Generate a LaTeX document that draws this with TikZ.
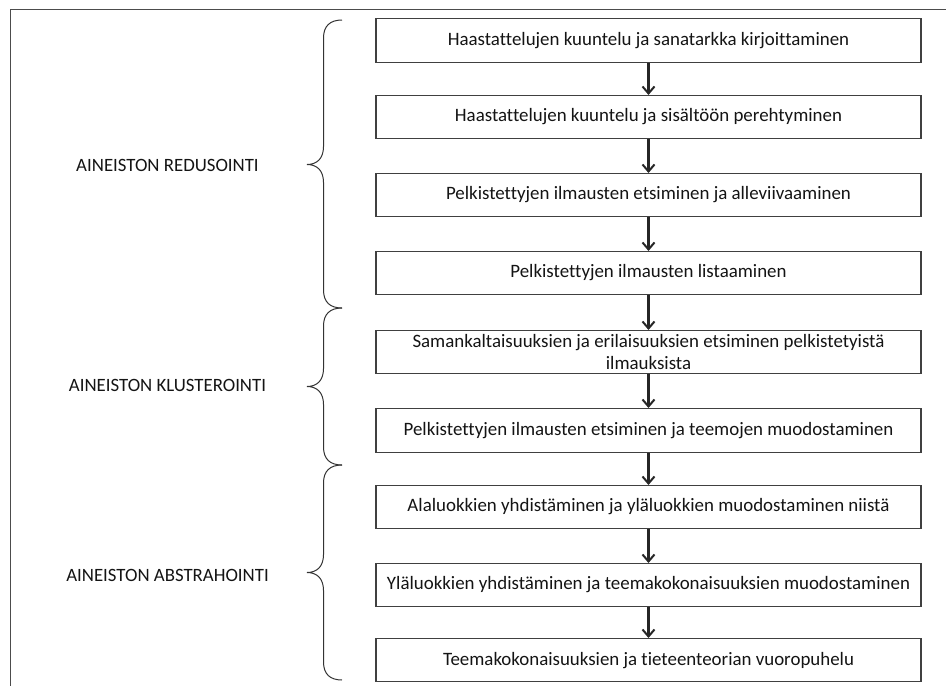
\documentclass[tikz,border=0pt]{standalone}
\usepackage{fontspec}
\setmainfont{Carlito}[Ligatures=NoCommon]
\usetikzlibrary{arrows.meta}
\begin{document}
\begin{tikzpicture}[x=1pt,y=-1pt,
  stepbox/.style={draw=black!75,line width=1.1pt,fill=white,minimum width=545pt,
    inner sep=0pt,align=center,font=\fontsize{18.9}{22.5}\selectfont,anchor=north,text=black!92},
  flow/.style={draw=black!85,line width=2.2pt,-{Straight Barb[length=7pt,width=12pt,line width=2pt]}},
  phase/.style={font=\fontsize{18.8}{22}\selectfont,text=black!92},
  brace/.style={draw=black!80,line width=1pt},
  frame/.style={draw=black!70,line width=1pt}]
\useasboundingbox (0,0) rectangle (946,686);
% outer frame (left and top edges)
\draw[frame] (10.5,686) -- (10.5,9.5) -- (946,9.5);
% process steps
\def\bx{648.5}
\node[stepbox,minimum height=44pt] (s1) at (\bx,18) {Haastattelujen kuuntelu ja sanatarkka kirjoittaminen};
\node[stepbox,minimum height=43pt] (s2) at (\bx,95) {Haastattelujen kuuntelu ja sisältöön perehtyminen};
\node[stepbox,minimum height=43pt] (s3) at (\bx,173) {Pelkistettyjen ilmausten etsiminen ja alleviivaaminen};
\node[stepbox,minimum height=43pt] (s4) at (\bx,251) {Pelkistettyjen ilmausten listaaminen};
\node[stepbox,minimum height=43pt] (s5) at (\bx,330) {Samankaltaisuuksien ja erilaisuuksien etsiminen pelkistetyistä\\ilmauksista};
\node[stepbox,minimum height=44pt] (s6) at (\bx,408) {Pelkistettyjen ilmausten etsiminen ja teemojen muodostaminen};
\node[stepbox,minimum height=43pt] (s7) at (\bx,485) {Alaluokkien yhdistäminen ja yläluokkien muodostaminen niistä};
\node[stepbox,minimum height=43pt] (s8) at (\bx,563) {Yläluokkien yhdistäminen ja teemakokonaisuuksien muodostaminen};
\node[stepbox,minimum height=43pt] (s9) at (\bx,638) {Teemakokonaisuuksien ja tieteenteorian vuoropuhelu};
% arrows between steps
\foreach \a/\b in {s1/s2,s2/s3,s3/s4,s4/s5,s5/s6,s6/s7,s7/s8,s8/s9}
  \draw[flow] (\a.south) -- (\b.north);
% phase braces: top end, tip, bottom end
\foreach \t/\m/\e/\n in {20/164.5/308/b1,308/386.5/465/b2,465/572.5/680/b3}{
  \coordinate (\n t) at (342,\t);
  \coordinate (\n m) at (307,\m);
  \coordinate (\n e) at (342,\e);
  \draw[brace] (\n t) .. controls (330,\t) and (323.5,\t+6) .. (323.5,\t+18)
    -- (323.5,\m-18) .. controls (323.5,\m-6) and (317,\m) .. (\n m)
    .. controls (317,\m) and (323.5,\m+6) .. (323.5,\m+18)
    -- (323.5,\e-18) .. controls (323.5,\e-6) and (330,\e) .. (\n e);
}
% phase labels
\node[phase] (p1) at (167.5,165) {AINEISTON REDUSOINTI};
\node[phase] (p2) at (167.5,385) {AINEISTON KLUSTEROINTI};
\node[phase] (p3) at (167.5,575) {AINEISTON ABSTRAHOINTI};
\end{tikzpicture}
\end{document}
